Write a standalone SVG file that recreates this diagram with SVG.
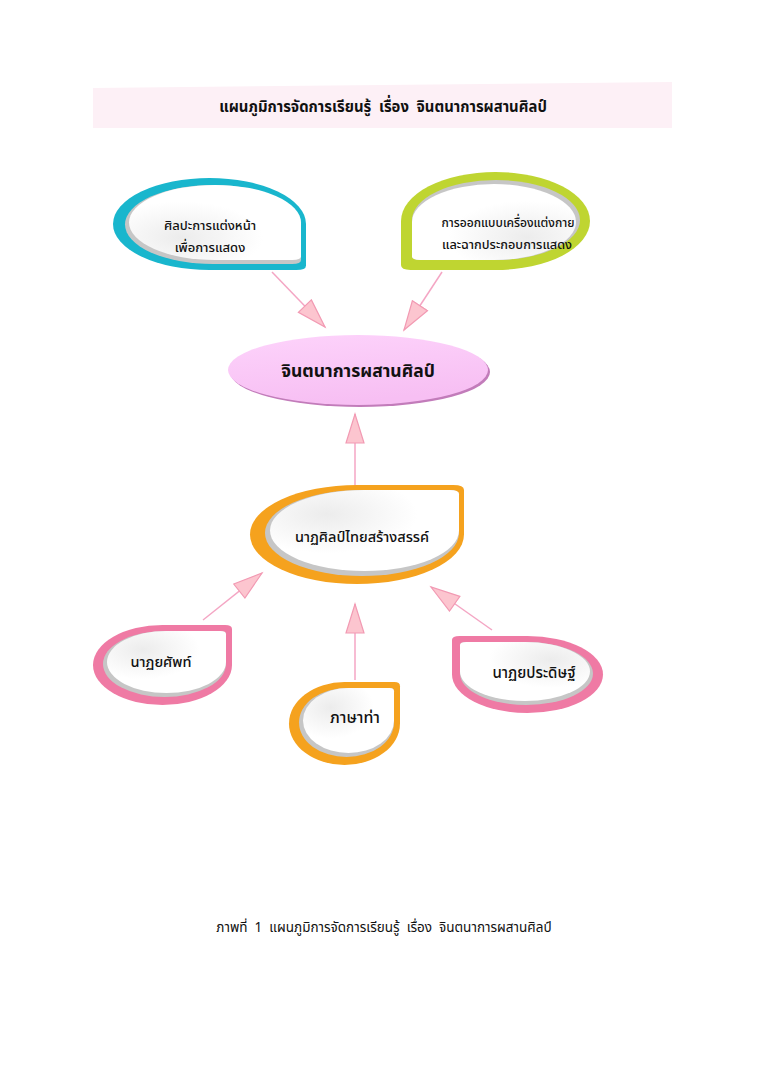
<svg xmlns="http://www.w3.org/2000/svg" xmlns:xlink="http://www.w3.org/1999/xlink" width="768" height="1086" viewBox="0 0 768 1086">
<style>
text{font-family:"Noto Sans Thai","Noto Sans","DejaVu Sans",sans-serif;fill:#111;text-anchor:middle;white-space:pre}
.t{font-size:13px;font-weight:500}
.u{font-size:14.5px;font-weight:500}
.b{font-weight:bold}
.conn line{stroke:#f4a6c4;stroke-width:1.5}
</style>
<defs>
<path id="tr" d="M-1,0 A1,1 0 0 1 0,-1 L0.9,-1 Q1,-1 1,-0.9 L1,0 A1,1 0 0 1 0,1 A1,1 0 0 1 -1,0 Z"/>
<marker id="ah" markerUnits="userSpaceOnUse" markerWidth="34" markerHeight="22" refX="30" refY="10" orient="auto">
<path d="M1,1 L30,10 L1,19 Z" fill="#fcc5cf" stroke="#f29ab3" stroke-width="1.2"/>
</marker>
<radialGradient id="inner" cx="0.3" cy="0.3" r="0.8">
<stop offset="0" stop-color="#ececec"/>
<stop offset="0.6" stop-color="#ffffff"/>
</radialGradient>
<linearGradient id="ell" x1="0" y1="0" x2="0.3" y2="1">
<stop offset="0" stop-color="#fdd3fb"/>
<stop offset="1" stop-color="#f7bff3"/>
</linearGradient>
</defs>
<rect width="768" height="1086" fill="#fff"/>

<g id="title">
<polygon points="93,88 672,82 672,128 93,128" fill="#fdf0f6"/>
<text transform="translate(383,112) scale(0.9,1)" x="0" y="0" class="b" style="font-size:16.5px" xml:space="preserve">แผนภูมิการจัดการเรียนรู้  เรื่อง  จินตนาการผสานศิลป์</text>
</g>

<g class="conn" id="connectors">
<line x1="272" y1="272" x2="325" y2="327" marker-end="url(#ah)"/>
<line x1="442" y1="272" x2="404" y2="330" marker-end="url(#ah)"/>
<line x1="355" y1="486" x2="355" y2="414" marker-end="url(#ah)"/>
<line x1="203" y1="620" x2="262" y2="573" marker-end="url(#ah)"/>
<line x1="355" y1="680" x2="355" y2="604" marker-end="url(#ah)"/>
<line x1="492" y1="630" x2="431" y2="587" marker-end="url(#ah)"/>
</g>

<g id="node-makeup">
<use xlink:href="#tr" transform="translate(209.5,224) scale(96.5,-46)" fill="#19b6cd"/>
<use xlink:href="#tr" transform="translate(213,224.5) scale(88,-39.5)" fill="#c6c6c6"/>
<use xlink:href="#tr" transform="translate(215,222.5) scale(86,-37.5)" fill="url(#inner)"/>
<text x="210" y="230" class="t">ศิลปะการแต่งหน้า</text>
<text x="210" y="252" class="t">เพื่อการแสดง</text>
</g>

<g id="node-costume">
<use xlink:href="#tr" transform="translate(495.5,221) scale(-94.5,-49)" fill="#bfd531"/>
<use xlink:href="#tr" transform="translate(496,220) scale(-84,-40)" fill="#c6c6c6"/>
<use xlink:href="#tr" transform="translate(494,222) scale(-82,-38)" fill="url(#inner)"/>
<text x="508" y="227" class="t" textLength="133" lengthAdjust="spacingAndGlyphs">การออกแบบเครื่องแต่งกาย</text>
<text x="507" y="249" class="t" textLength="130" lengthAdjust="spacingAndGlyphs">และฉากประกอบการแสดง</text>
</g>

<g id="node-main">
<ellipse cx="360" cy="372" rx="130" ry="35" fill="#c27cba"/>
<ellipse cx="358" cy="370" rx="130" ry="35" fill="url(#ell)"/>
<text x="358" y="377" class="b" style="font-size:17.5px">จินตนาการผสานศิลป์</text>
</g>

<g id="node-creative">
<use xlink:href="#tr" transform="translate(357,534.5) scale(107,49.5)" fill="#f5a21e"/>
<use xlink:href="#tr" transform="translate(362,533) scale(97,43)" fill="#c6c6c6"/>
<use xlink:href="#tr" transform="translate(364.5,530.5) scale(94.5,40.5)" fill="url(#inner)"/>
<text x="362" y="542" class="u">นาฏศิลป์ไทยสร้างสรรค์</text>
</g>

<g id="node-terms">
<use xlink:href="#tr" transform="translate(162.5,665) scale(69.5,40)" fill="#ef7aa4"/>
<use xlink:href="#tr" transform="translate(164.5,664) scale(61.5,33)" fill="#c6c6c6"/>
<use xlink:href="#tr" transform="translate(166.5,662) scale(59.5,31)" fill="url(#inner)"/>
<text x="161" y="667" class="u">นาฏยศัพท์</text>
</g>

<g id="node-gesture">
<use xlink:href="#tr" transform="translate(344.5,723.5) scale(55.5,41.5)" fill="#f5a21e"/>
<use xlink:href="#tr" transform="translate(346.5,722.5) scale(47.5,34.5)" fill="#c6c6c6"/>
<use xlink:href="#tr" transform="translate(348.5,720.5) scale(45.5,32.5)" fill="url(#inner)"/>
<text x="355" y="723" class="u" style="font-size:16px">ภาษาท่า</text>
</g>

<g id="node-choreo">
<use xlink:href="#tr" transform="translate(527.5,674.5) scale(-75.5,38.5)" fill="#ef7aa4"/>
<use xlink:href="#tr" transform="translate(526.5,673.5) scale(-66.5,31.5)" fill="#c6c6c6"/>
<use xlink:href="#tr" transform="translate(525,671.5) scale(-65,29.5)" fill="url(#inner)"/>
<text x="534" y="678" class="u" style="font-size:15px">นาฏยประดิษฐ์</text>
</g>

<g id="caption">
<text x="384" y="932" style="font-size:13.5px" xml:space="preserve">ภาพที่  1  แผนภูมิการจัดการเรียนรู้  เรื่อง  จินตนาการผสานศิลป์</text>
</g>
</svg>
